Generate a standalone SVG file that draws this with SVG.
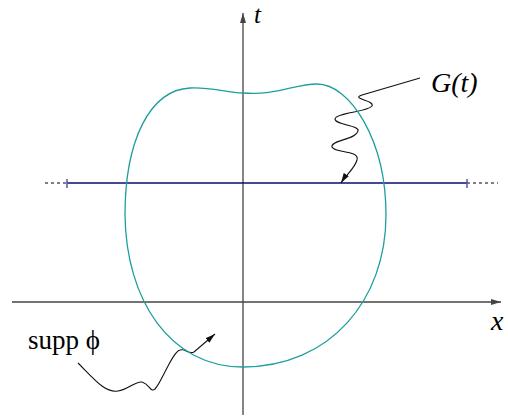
<svg xmlns="http://www.w3.org/2000/svg" width="508" height="418" viewBox="0 0 508 418">
<style>
.axis{stroke:#444;stroke-width:1.3;fill:none}
.curve{stroke:#1f9e9e;stroke-width:1.3;fill:none}
.wave{stroke:#111;stroke-width:1.1;fill:none}
.dash{stroke:#000;stroke-width:1.1;stroke-dasharray:3 3;fill:none}
.navy{stroke:#0a0a6e;stroke-width:1.3;fill:none}
.tick{stroke:#5555aa;stroke-width:1.5}
.lbl{font-family:"Liberation Serif",serif;fill:#000}
</style>
<defs>
<marker id="ah" viewBox="0 0 10 6" refX="10" refY="3" markerWidth="10" markerHeight="6" markerUnits="userSpaceOnUse" orient="auto">
<path d="M0,0 L10,3 L0,6 Z" fill="#444"/>
</marker>
<marker id="wh" viewBox="0 0 10 6" refX="10" refY="3" markerWidth="10" markerHeight="6" markerUnits="userSpaceOnUse" orient="auto">
<path d="M0,0 L10,3 L0,6 Z" fill="#111"/>
</marker>
</defs>
<g id="connectors">
<line class="axis" x1="243" y1="415" x2="243" y2="13" marker-end="url(#ah)"/>
<line class="axis" x1="12" y1="302" x2="501" y2="302" marker-end="url(#ah)"/>
<line class="dash" x1="45" y1="183" x2="67" y2="183"/>
<line class="dash" x1="467" y1="183" x2="498" y2="183"/>
<line class="navy" x1="67" y1="183" x2="467" y2="183"/>
<line class="tick" x1="67" y1="179" x2="67" y2="188"/>
<line class="tick" x1="467" y1="179" x2="467" y2="188"/>
<path class="wave" d="M420,78 L362,95 C350,99 375,100 372,106 C368,112 335,113 335,119 C335,125 360,125 358,131 C356,140 330,140 332,147 C334,153 360,150 357,160 C355,168 346,175 341,183" marker-end="url(#wh)"/>
<path class="wave" d="M78,363 C95,380 105,393 118,391 C128,390 135,381 142,382 C150,384 150,393 155,389 C162,382 172,352 180,350 C186,348 188,355 194,352 L215,334" marker-end="url(#wh)"/>
</g>
<g id="support">
<path class="curve" d="M243,93 C275,96 295,84 317,84 C350,84 386,140 386,215 C386,300 330,367 243,367 C170,367 126,300 125,215 C125,140 150,90 190,88 C210,87 225,92 243,93 Z"/>
</g>
<g id="label-t"><text class="lbl" x="254" y="23" font-size="25" font-style="italic">t</text></g>
<g id="label-x"><text class="lbl" x="491" y="330" font-size="28" font-style="italic">x</text></g>
<g id="label-G"><text class="lbl" x="431" y="92" font-size="28" font-style="italic">G(t)</text></g>
<g id="label-supp"><text class="lbl" x="28" y="349" font-size="27">supp ϕ</text></g>
</svg>
